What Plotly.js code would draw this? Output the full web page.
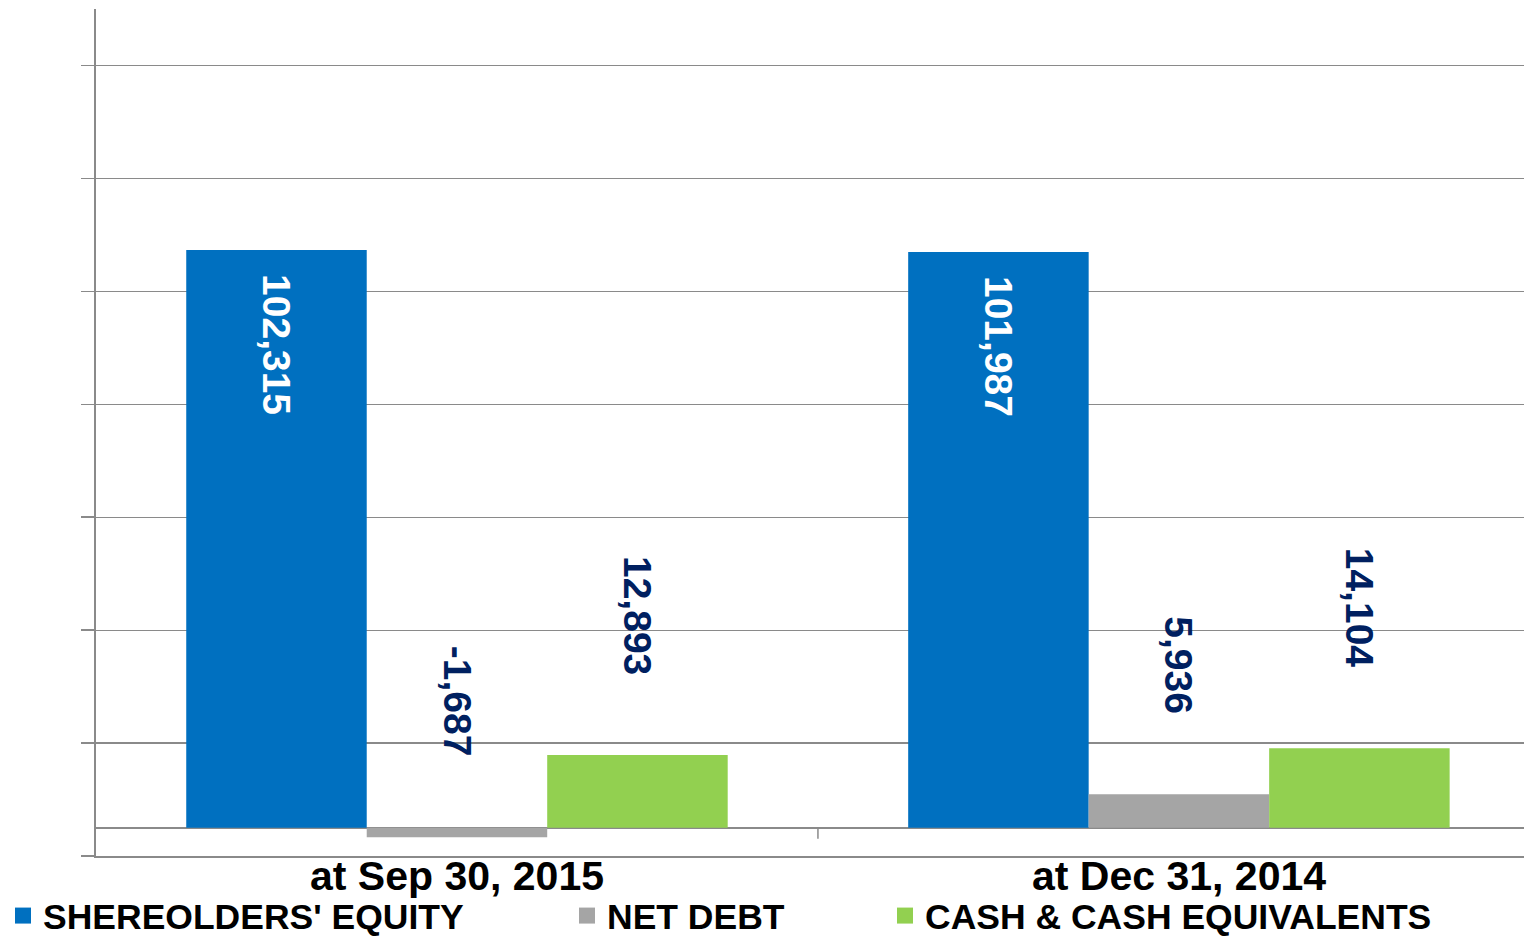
<!DOCTYPE html>
<html>
<head>
<meta charset="utf-8">
<script src="https://cdn.plot.ly/plotly-3.0.1.min.js"></script>
<style>
  html, body { margin: 0; padding: 0; background: #fff; overflow: hidden; }
  #chart { width: 1524px; height: 937px; }
</style>
</head>
<body>
<div id="chart"></div>
<script>
// ---- data ----
const categories = ["at Sep 30, 2015", "at Dec 31, 2014"];
const seriesNames = ["SHEREOLDERS' EQUITY", "NET DEBT", "CASH & CASH EQUIVALENTS"];
const equity = [102315, 101987];
const netDebt = [-1687, 5936];
const cash = [12893, 14104];
const seriesValues = [equity, netDebt, cash];

// ---- styles ----
const colors = ["#0070C0", "#A5A5A5", "#92D050"];
const labelColors = ["#FFFFFF", "#002060", "#002060"];
const gridColor = "#8A8A8A";
const barGap = 0.25;
const catPx = 722;                       // pixels per category on this layout
const barPx = catPx * (1 - barGap) / 3;  // width of one bar
const boldFont = "'Liberation Sans', Arial, sans-serif";

const fmt = v => v.toLocaleString("en-US");

const traces = seriesValues.map((vals, i) => ({
  type: "bar",
  name: seriesNames[i],
  x: categories,
  y: vals,
  marker: { color: colors[i], line: { width: 0 } },
  showlegend: false,
  hoverinfo: "x+y"
}));

// legend-only traces (square markers) each in its own legend box
const legendIds = ["legend", "legend2", "legend3"];
seriesNames.forEach((n, i) => {
  traces.push({
    type: "scatter",
    mode: "markers",
    name: n,
    x: [null],
    y: [null],
    marker: { symbol: "square", size: 18, color: colors[i] },
    showlegend: true,
    legend: legendIds[i],
    hoverinfo: "skip"
  });
});

// data labels as rotated annotations
const annotations = [];
seriesValues.forEach((vals, i) => {
  vals.forEach((v, j) => {
    const inside = i === 0;
    annotations.push({
      x: categories[j],
      y: v,
      xref: "x",
      yref: "y",
      xshift: (i - 1) * barPx,
      yshift: inside ? -22 : 78,
      yanchor: inside ? "top" : "bottom",
      xanchor: "center",
      text: fmt(v),
      textangle: 90,
      showarrow: false,
      font: { family: boldFont, size: 39, color: labelColors[i], weight: 700 }
    });
  });
});

// category labels below the plot
categories.forEach(c => {
  annotations.push({
    x: c,
    xref: "x",
    y: 0,
    yref: "paper",
    yanchor: "top",
    xanchor: "center",
    yshift: 5,
    text: c,
    showarrow: false,
    font: { family: boldFont, size: 41, color: "#000000", weight: 700 }
  });
});

const legendFont = { family: boldFont, size: 35.5, color: "#000000", weight: 700 };
const legendBase = { orientation: "h", yref: "container", xref: "container",
  yanchor: "middle", y: 1 - 916 / 937, xanchor: "left",
  font: legendFont, bgcolor: "rgba(0,0,0,0)", borderwidth: 0, itemclick: false, itemdoubleclick: false };

const layout = {
  width: 1524,
  height: 937,
  margin: { l: 96, r: 0, t: 9, b: 81, autoexpand: false },
  paper_bgcolor: "#FFFFFF",
  plot_bgcolor: "#FFFFFF",
  barmode: "group",
  bargap: barGap,
  bargroupgap: 0,
  showlegend: true,
  legend: Object.assign({}, legendBase, { x: 3 / 1524 }),
  legend2: Object.assign({}, legendBase, { x: 567 / 1524 }),
  legend3: Object.assign({}, legendBase, { x: 885 / 1524 }),
  xaxis: {
    type: "category",
    range: [-0.5, 1.478],
    showgrid: false,
    zeroline: false,
    showline: true,
    linecolor: gridColor,
    linewidth: 2,
    ticks: "",
    showticklabels: false,
    fixedrange: true
  },
  yaxis: {
    range: [-5000, 145000],
    tick0: -5000,
    dtick: 20000,
    showgrid: true,
    gridcolor: gridColor,
    gridwidth: 1.2,
    zeroline: true,
    zerolinecolor: gridColor,
    zerolinewidth: 2,
    showline: true,
    linecolor: gridColor,
    linewidth: 2,
    ticks: "outside",
    ticklen: 13,
    tickwidth: 1.5,
    tickcolor: gridColor,
    showticklabels: false,
    fixedrange: true
  },
  shapes: [{
    type: "line",
    xref: "x",
    yref: "y",
    x0: 0.5, x1: 0.5,
    ysizemode: "pixel",
    yanchor: 0,
    y0: 0, y1: -11,
    line: { color: gridColor, width: 1.5 }
  }],
  annotations: annotations
};

Plotly.newPlot("chart", traces, layout, { displayModeBar: false, staticPlot: true });
</script>
</body>
</html>
